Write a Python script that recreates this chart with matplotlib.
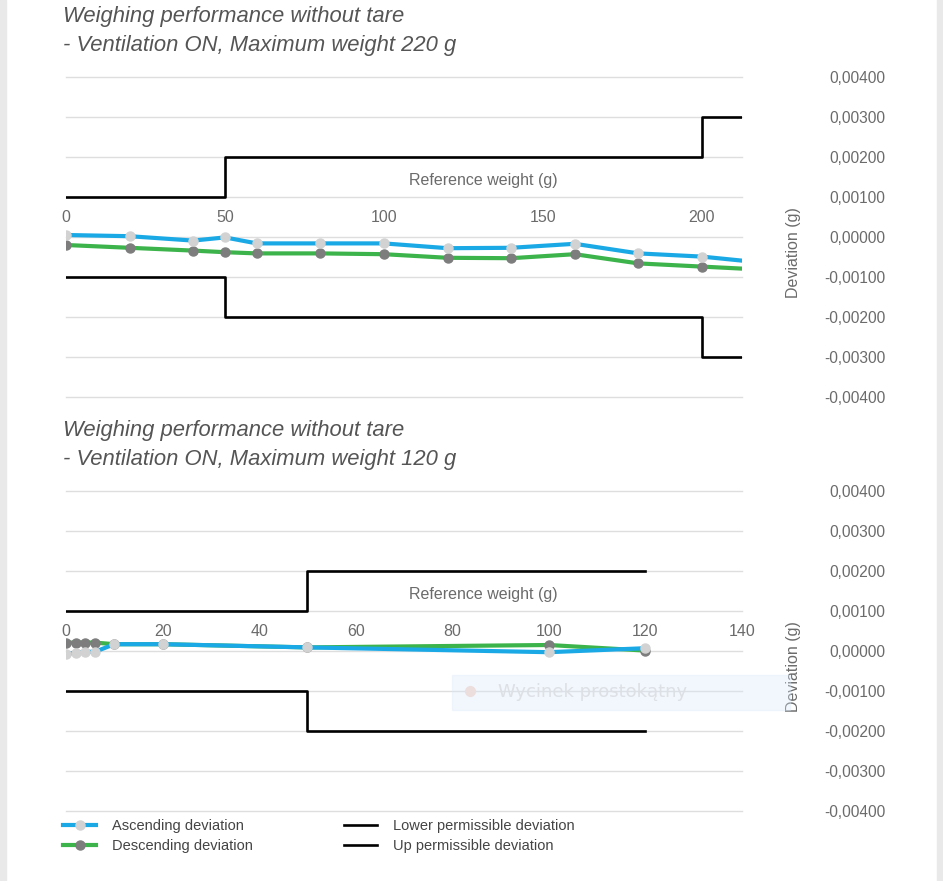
"""
Weighing performance without tare (ventilation ON):
deviation charts for the 220 g and the 120 g maximum weight ranges.
"""
import matplotlib
matplotlib.use('Agg')
from matplotlib import pyplot as plt
from matplotlib.lines import Line2D
from matplotlib.patches import Rectangle

# 220 g range
WEIGHTS_220 = [0, 20, 40, 50, 60, 80, 100, 120, 140, 160, 180, 200, 220]
ASCENDING_220 = [0.00005, 0.00002, -0.00009, -0.00001, -0.00016, -0.00016, -0.00016,
                 -0.00028, -0.00027, -0.00017, -0.00041, -0.00049, -0.00065]
DESCENDING_220 = [-0.00020, -0.00027, -0.00034, -0.00038, -0.00041, -0.00041, -0.00043,
                  -0.00052, -0.00053, -0.00043, -0.00066, -0.00074, -0.00082]
LIMIT_STEPS_220 = [0, 50, 200, 220]
UP_LIMIT_220 = [0.001, 0.002, 0.003, 0.003]
LOWER_LIMIT_220 = [-0.001, -0.002, -0.003, -0.003]
X_TICKS_220 = [0, 50, 100, 150, 200]

# 120 g range
WEIGHTS_120 = [0, 2, 4, 6, 10, 20, 50, 100, 120]
ASCENDING_120 = [-0.00008, -0.00004, -0.00002, -0.00002, 0.00017, 0.00017, 0.00009,
                 -0.00003, 0.00007]
DESCENDING_120 = [0.00021, 0.00021, 0.00021, 0.00021, 0.00017, 0.00017, 0.00009,
                  0.00015, 0.00001]
LIMIT_STEPS_120 = [0, 50, 120]
UP_LIMIT_120 = [0.001, 0.002, 0.002]
LOWER_LIMIT_120 = [-0.001, -0.002, -0.002]
X_TICKS_120 = [0, 20, 40, 60, 80, 100, 120, 140]

Y_TICKS = [0.004, 0.003, 0.002, 0.001, 0.0, -0.001, -0.002, -0.003, -0.004]

TITLES = ['Weighing performance without tare\n- Ventilation ON, Maximum weight 220 g',
          'Weighing performance without tare\n- Ventilation ON, Maximum weight 120 g']
LEGEND_LABELS = ['Ascending deviation', 'Descending deviation',
                 'Lower permissible deviation', 'Up permissible deviation']

BLUE = '#1ba9e6'
GREEN = '#3cb44b'
LIGHT = '#d2d2d2'
DARK = '#7d7d7d'
TEXT = '#6b6b6b'
GRID = '#dedede'

plt.rcParams['font.family'] = ['Liberation Sans Narrow', 'Liberation Sans', 'DejaVu Sans']


def draw_panel(ax, weights, ascending, descending, steps, up, lower, xticks, xmax):
    """Draw one deviation chart with its permissible limits."""
    for value in Y_TICKS:
        ax.axhline(value, color=GRID, lw=1.0, zorder=0, clip_on=False)

    ax.plot(steps, up, drawstyle='steps-post', color='black', lw=1.9, zorder=2)
    ax.plot(steps, lower, drawstyle='steps-post', color='black', lw=1.9, zorder=2)

    ax.plot(weights, descending, color=GREEN, lw=3, marker='o', ms=6.5,
            mfc=DARK, mec=DARK, zorder=3)
    ax.plot(weights, ascending, color=BLUE, lw=3, marker='o', ms=6.5,
            mfc=LIGHT, mec=LIGHT, zorder=4)

    ax.set_xlim(0, xmax)
    ax.set_ylim(-0.004, 0.004)
    for spine in ax.spines.values():
        spine.set_visible(False)

    # x axis sits on the zero line, labels above it
    ax.spines['top'].set_position(('data', 0))
    ax.xaxis.set_ticks_position('top')
    ax.set_xticks(xticks)
    ax.tick_params(axis='x', length=0, pad=9, labelsize=11.5, labelcolor=TEXT)
    ax.set_xlabel('Reference weight (g)', fontsize=11.5, color=TEXT)
    ax.xaxis.set_label_position('top')
    ax.xaxis.set_label_coords(0.617, 0.675)
    ax.xaxis.label.set_va('center')

    # deviation scale on the right, right aligned
    ax.yaxis.tick_right()
    ax.set_yticks(Y_TICKS, [f'{v:.5f}'.replace('.', ',') for v in Y_TICKS])
    ax.tick_params(axis='y', length=0, pad=103, labelsize=11.2, labelcolor=TEXT)
    for label in ax.get_yticklabels():
        label.set_ha('right')
    ax.set_ylabel('Deviation (g)', fontsize=11.5, color=TEXT)
    ax.yaxis.set_label_coords(1.076, 0.45)
    ax.yaxis.label.set_va('center')


fig = plt.figure(figsize=(9.43, 8.81), dpi=100)
ax_top = fig.add_axes([66 / 943, 1 - 397 / 881, 676 / 943, 320 / 881])
ax_bottom = fig.add_axes([66 / 943, 1 - 811 / 881, 676 / 943, 320 / 881])

draw_panel(ax_top, WEIGHTS_220, ASCENDING_220, DESCENDING_220,
           LIMIT_STEPS_220, UP_LIMIT_220, LOWER_LIMIT_220, X_TICKS_220, 212.6)
draw_panel(ax_bottom, WEIGHTS_120, ASCENDING_120, DESCENDING_120,
           LIMIT_STEPS_120, UP_LIMIT_120, LOWER_LIMIT_120, X_TICKS_120, 140)

fig.text(63 / 943, 1 - 6 / 881, TITLES[0], va='top', ha='left', style='italic',
         fontsize=15.8, color='#555555', linespacing=1.5)
fig.text(63 / 943, 1 - 420 / 881, TITLES[1], va='top', ha='left', style='italic',
         fontsize=15.8, color='#555555', linespacing=1.5)

handles = [
    Line2D([], [], color=BLUE, lw=3, marker='o', ms=6.5, mfc=LIGHT, mec=LIGHT),
    Line2D([], [], color=GREEN, lw=3, marker='o', ms=6.5, mfc=DARK, mec=DARK),
    Line2D([], [], color='black', lw=1.9),
    Line2D([], [], color='black', lw=1.9),
]
fig.legend(handles, LEGEND_LABELS, ncol=2, loc='upper left',
           bbox_to_anchor=(57 / 943, 1 - 813 / 881), frameon=False, fontsize=10.5,
           handlelength=2.3, handletextpad=1.1, columnspacing=6.2, labelspacing=0.45,
           labelcolor='#444444', borderpad=0.2, borderaxespad=0.2)

# grey page edges
fig.patches.append(Rectangle((0, 0), 6 / 943, 1, transform=fig.transFigure,
                             color='#e9e9e9', zorder=5))
fig.patches.append(Rectangle((937 / 943, 0), 6 / 943, 1, transform=fig.transFigure,
                             color='#e9e9e9', zorder=5))

# faint snipping-tool overlay
fig.patches.append(Rectangle((452 / 943, 1 - 710 / 881), 338 / 943, 35 / 881,
                             transform=fig.transFigure, color='#dbe9fa', alpha=0.35,
                             zorder=5))
fig.add_artist(Line2D([470 / 943], [1 - 691 / 881], marker='o', ms=7, color='#eddede',
                      transform=fig.transFigure, zorder=6))
fig.text(498 / 943, 1 - 692 / 881, 'Wycinek prostokątny', va='center', ha='left',
         fontsize=13, color='#dde0e5', family=['DejaVu Sans'], zorder=6)

fig.savefig('out.png', dpi=100)
